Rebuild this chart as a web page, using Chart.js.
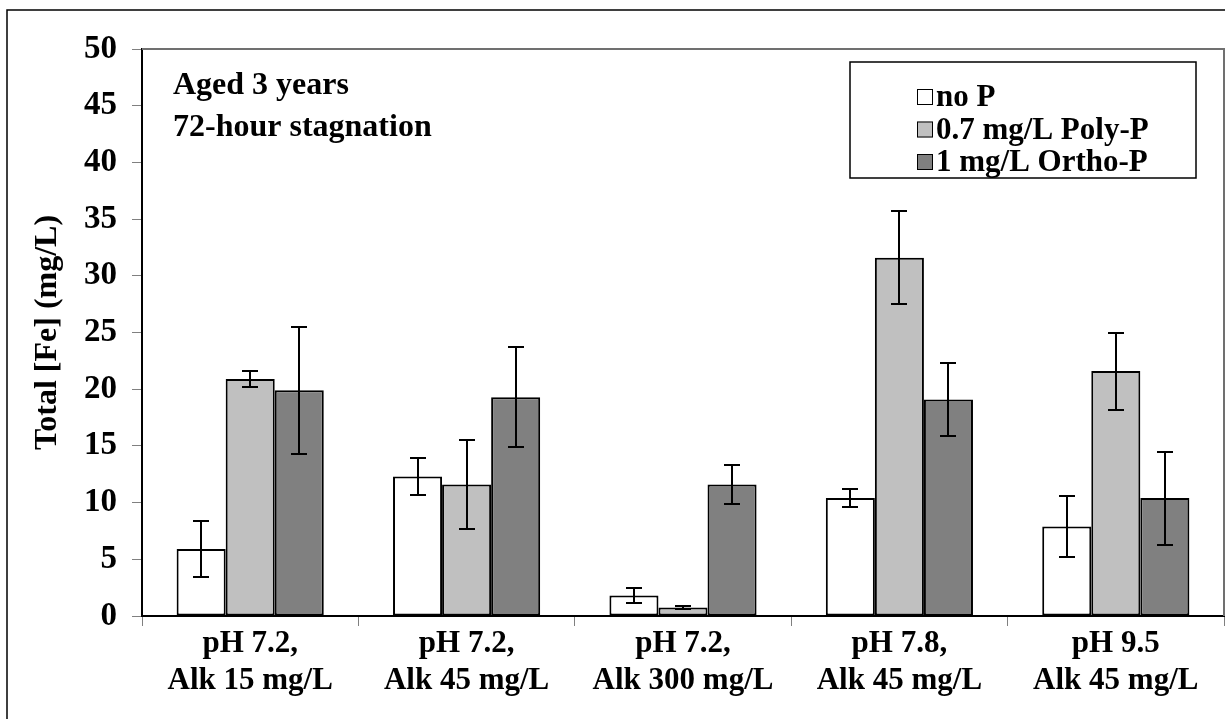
<!DOCTYPE html>
<html>
<head>
<meta charset="utf-8">
<script src="https://cdn.jsdelivr.net/npm/chart.js@4.4.1/dist/chart.umd.min.js"></script>
<style>
  html, body { margin: 0; padding: 0; background: #fff; }
  #wrap { width: 1225px; height: 719px; }
</style>
</head>
<body>
<div id="wrap"><canvas id="feChart" width="1225" height="719"></canvas></div>
<script>
// datos
const categories = [
    ['pH 7.2,', 'Alk 15 mg/L'],
    ['pH 7.2,', 'Alk 45 mg/L'],
    ['pH 7.2,', 'Alk 300 mg/L'],
    ['pH 7.8,', 'Alk 45 mg/L'],
    ['pH 9.5', 'Alk 45 mg/L']
];
const seriesNames = ['no P', '0.7 mg/L Poly-P', '1 mg/L Ortho-P'];
const noP = [5.9, 12.3, 1.8, 10.4, 7.9];
const noPErr = [2.5, 1.6, 0.65, 0.8, 2.7];
const polyP = [20.9, 11.6, 0.75, 31.6, 21.6];
const polyPErr = [0.7, 3.9, 0.15, 4.1, 3.4];
const orthoP = [19.9, 19.3, 11.6, 19.1, 10.4];
const orthoPErr = [5.6, 4.4, 1.7, 3.2, 4.1];
const yTicks = [0, 5, 10, 15, 20, 25, 30, 35, 40, 45, 50];
const notes = ['Aged 3 years', '72-hour stagnation'];

const FONT = '"Liberation Serif", "Times New Roman", serif';

document.addEventListener('DOMContentLoaded', function () {
    const ctx = document.getElementById('feChart').getContext('2d');

    // barras de error
    const errorBars = {
        id: 'errorBars',
        afterDatasetsDraw(chart) {
            const c = chart.ctx;
            const y = chart.scales.y;
            c.save();
            c.strokeStyle = '#000';
            c.lineWidth = 2;
            chart.data.datasets.forEach((ds, i) => {
                const meta = chart.getDatasetMeta(i);
                meta.data.forEach((bar, j) => {
                    const v = ds.data[j], e = ds.err[j];
                    const top = Math.round(y.getPixelForValue(v + e));
                    const bot = Math.round(y.getPixelForValue(v - e));
                    const x = Math.round(bar.x);
                    c.beginPath();
                    c.moveTo(x, top); c.lineTo(x, bot);
                    c.moveTo(x - 8, top); c.lineTo(x + 8, top);
                    c.moveTo(x - 8, bot); c.lineTo(x + 8, bot);
                    c.stroke();
                });
            });
            c.restore();
        }
    };

    // marco, notas y leyenda
    const extras = {
        id: 'extras',
        afterDraw(chart) {
            const c = chart.ctx;
            const a = chart.chartArea;
            c.save();
            // marco exterior
            c.strokeStyle = '#000';
            c.lineWidth = 1.5;
            c.beginPath();
            c.moveTo(7, 719); c.lineTo(7, 10); c.lineTo(1225, 10);
            c.stroke();
            // borde del area
            c.strokeStyle = '#707070';
            c.lineWidth = 2;
            c.beginPath();
            c.moveTo(a.left, a.top); c.lineTo(a.right, a.top); c.lineTo(a.right, a.bottom);
            c.stroke();
            // notas
            c.fillStyle = '#000';
            c.font = 'bold 32px ' + FONT;
            c.textAlign = 'left';
            c.textBaseline = 'middle';
            c.fillText(notes[0], 173, 86);
            c.fillText(notes[1], 173, 128);
            // leyenda
            c.strokeStyle = '#000';
            c.lineWidth = 1.5;
            c.strokeRect(850, 62, 346, 116);
            c.font = 'bold 31px ' + FONT;
            chart.data.datasets.forEach((ds, i) => {
                const cy = 97 + i * 32.5;
                c.fillStyle = ds.backgroundColor;
                c.fillRect(917, cy - 8, 16, 16);
                c.strokeStyle = '#000';
                c.lineWidth = 1;
                c.strokeRect(917.5, cy - 7.5, 15, 15);
                c.fillStyle = '#000';
                c.fillText(ds.label, 936, cy + 1);
            });
            c.restore();
        }
    };

    const makeSet = (label, data, err, color) => ({
        label: label,
        data: data,
        err: err,
        backgroundColor: color,
        borderColor: '#000',
        borderWidth: 2,
        borderSkipped: false,
        categoryPercentage: 0.68,
        barPercentage: 1.0
    });

    new Chart(ctx, {
        type: 'bar',
        data: {
            labels: categories,
            datasets: [
                makeSet(seriesNames[0], noP, noPErr, '#ffffff'),
                makeSet(seriesNames[1], polyP, polyPErr, '#c0c0c0'),
                makeSet(seriesNames[2], orthoP, orthoPErr, '#808080')
            ]
        },
        options: {
            responsive: false,
            animation: false,
            devicePixelRatio: 1,
            layout: { padding: { top: 49, right: 1, left: 0, bottom: 0 } },
            plugins: {
                legend: { display: false },
                tooltip: { enabled: false }
            },
            scales: {
                x: {
                    grid: { drawOnChartArea: false, color: '#808080', tickLength: 10, offset: true },
                    border: { color: '#000', width: 2 },
                    ticks: {
                        color: '#000',
                        padding: -1,
                        maxRotation: 0,
                        font: { family: FONT, size: 31, weight: 'bold', lineHeight: 1.2 }
                    },
                    afterFit(scale) { scale.height = 103; }
                },
                y: {
                    min: 0,
                    max: 50,
                    afterBuildTicks(scale) { scale.ticks = yTicks.map(v => ({ value: v })); },
                    grid: { drawOnChartArea: false, color: '#808080', tickLength: 10 },
                    border: { color: '#000', width: 2 },
                    ticks: {
                        color: '#000',
                        padding: 15,
                        font: { family: FONT, size: 33, weight: 'bold' }
                    },
                    title: {
                        display: true,
                        text: 'Total [Fe] (mg/L)',
                        color: '#000',
                        padding: { top: 29, bottom: 0 },
                        font: { family: FONT, size: 32, weight: 'bold' }
                    },
                    afterFit(scale) { scale.width = 142; }
                }
            }
        },
        plugins: [errorBars, extras]
    });
});
</script>
</body>
</html>
